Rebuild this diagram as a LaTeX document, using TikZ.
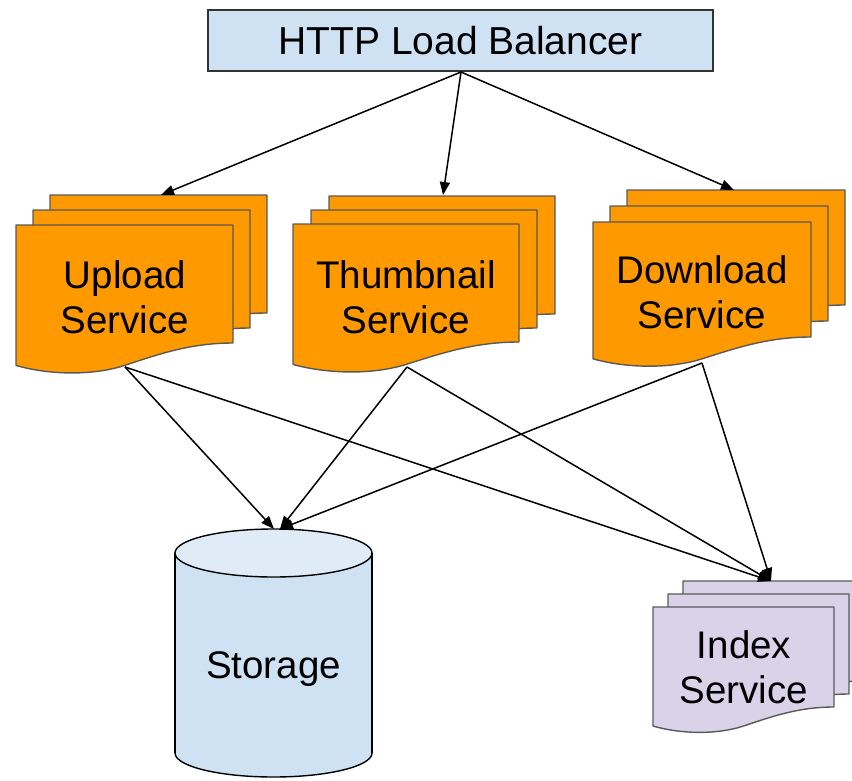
\documentclass[tikz,border=0pt]{standalone}
\usepackage{fontspec}
\setmainfont{Liberation Sans}
\usetikzlibrary{arrows.meta}

\definecolor{lbblue}{HTML}{CFE2F3}
\definecolor{topblue}{HTML}{DFEBF7}
\definecolor{svcorange}{HTML}{FF9900}
\definecolor{idxpurple}{HTML}{D9D2E9}
\definecolor{edgegray}{HTML}{595959}

% one page with a wavy bottom edge: x, y (top-left), width, height, style
\newcommand{\docsheet}[5]{%
  \path[#5] (#1,#2) -- ({#1+#3},#2) -- ({#1+#3},{#2+#4})
    .. controls ({#1+0.8*#3},{#2+#4}) and ({#1+0.65*#3},{#2+1.1*#4}) .. ({#1+0.5*#3},{#2+1.19*#4})
    .. controls ({#1+0.35*#3},{#2+1.28*#4}) and ({#1+0.15*#3},{#2+1.27*#4}) .. (#1,{#2+1.19*#4}) -- cycle;}

% a stack of three pages: x, y, width, height, dx, dy, style
\newcommand{\docstack}[7]{%
  \pgfmathsetmacro{\stackxa}{#1+2*#5}\pgfmathsetmacro{\stackya}{#2-2*#6}%
  \pgfmathsetmacro{\stackxb}{#1+#5}\pgfmathsetmacro{\stackyb}{#2-#6}%
  \docsheet{\stackxa}{\stackya}{#3}{#4}{#7}
  \docsheet{\stackxb}{\stackyb}{#3}{#4}{#7}
  \docsheet{#1}{#2}{#3}{#4}{#7}}

\tikzset{
  sheet/.style={draw=edgegray, line width=1.4pt, line join=round},
  svcsheet/.style={sheet, fill=svcorange},
  idxsheet/.style={sheet, fill=idxpurple},
  label/.style={font=\fontsize{38.5}{45}\selectfont, align=center, inner sep=0pt},
  link/.style={line width=1.5pt, -{Triangle[length=13pt,width=10pt]}},
}

\begin{document}
\begin{tikzpicture}[x=1pt, y=-1pt]
\useasboundingbox (0,0) rectangle (852,780);
\clip (0,0) rectangle (852,780);

% load balancer
\node[draw=black!80, line width=1.4pt, fill=lbblue, minimum width=505pt, minimum height=61pt,
      inner sep=0pt, font=\fontsize{39}{45}\selectfont] (lb) at (460.5,40.5) {HTTP Load Balancer};

% service stacks
\docstack{16}{225}{217}{118}{17}{15}{svcsheet}
\node[label] (upload) at (125,297) {Upload\\Service};

\docstack{293}{224}{226}{118}{18}{14}{svcsheet}
\node[label] (thumb) at (406,297) {Thumbnail\\Service};

\docstack{593}{222}{218}{115}{17}{16}{svcsheet}
\node[label] (download) at (702,292) {Download\\Service};

\docstack{653}{607}{181}{100}{15}{13}{idxsheet}
\node[label] (index) at (744,667) {Index\\Service};

% storage cylinder
\fill[lbblue, draw=black, line width=1.4pt] (273.5,753) ellipse [x radius=98.5, y radius=24];
\fill[lbblue] (175,553) rectangle (372,753);
\draw[line width=1.4pt] (175,553) -- (175,753) (372,553) -- (372,753);
\filldraw[fill=topblue, draw=black, line width=1.4pt] (273.5,553) ellipse [x radius=98.5, y radius=24];
\node[font=\fontsize{38.5}{45}\selectfont, inner sep=0pt] (storage) at (273.5,669) {Storage};

% connector ends
\coordinate (lb-out) at (461,72);
\coordinate (upload-in) at (161,195);
\coordinate (thumb-in) at (443,195);
\coordinate (download-in) at (734,190);
\coordinate (upload-out) at (125,367);
\coordinate (thumb-out) at (407,367);
\coordinate (download-out) at (702,363);
\coordinate (storage-in-a) at (274,529);
\coordinate (storage-in-b) at (280,529);
\coordinate (index-in) at (771,581);

\draw[link] (lb-out) -- (upload-in);
\draw[link] (lb-out) -- (thumb-in);
\draw[link] (lb-out) -- (download-in);
\draw[link] (upload-out) -- (storage-in-a);
\draw[link] (upload-out) -- (index-in);
\draw[link] (thumb-out) -- (storage-in-b);
\draw[link] (thumb-out) -- (index-in);
\draw[link] (download-out) -- (storage-in-b);
\draw[link] (download-out) -- (index-in);
\end{tikzpicture}
\end{document}
